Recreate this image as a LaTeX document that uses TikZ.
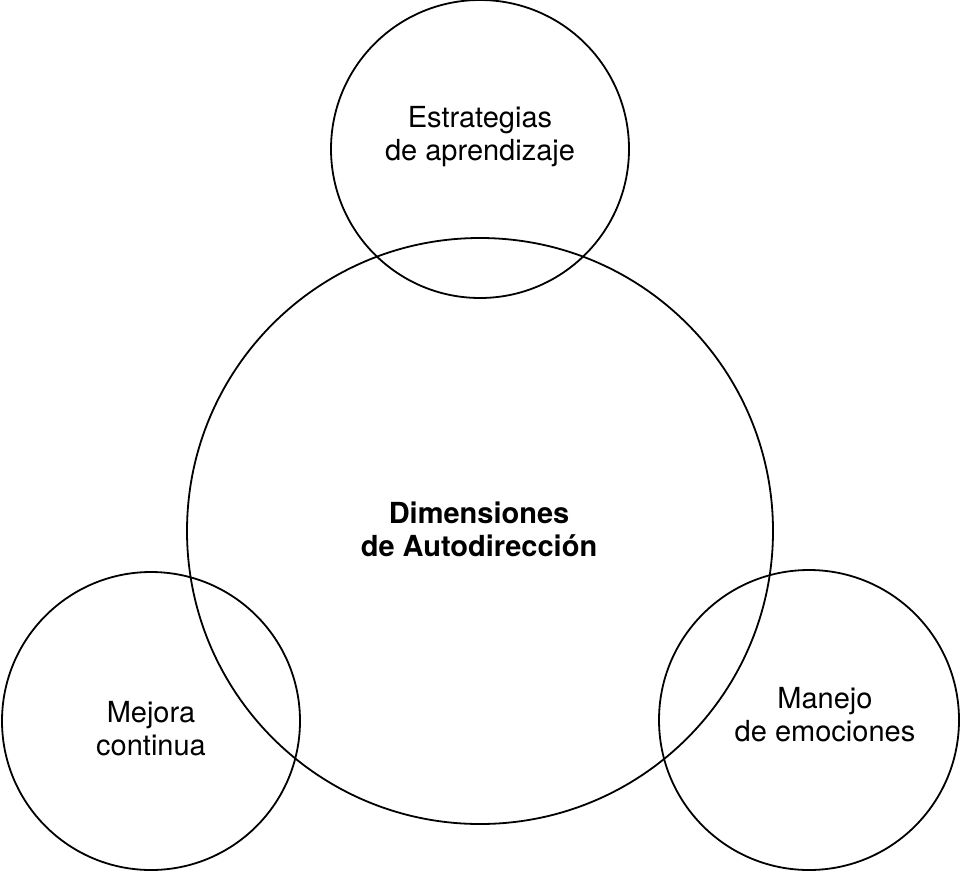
\documentclass[tikz,border=0pt]{standalone}
\usepackage{fontspec}
\setmainfont{TeX Gyre Heros}
\usetikzlibrary{positioning}

\begin{document}
\begin{tikzpicture}[x=1pt, y=-1pt]
		\tikzstyle {ring} = [draw, circle, line width=1.8pt, inner sep=0pt]
		\tikzstyle {label text} = [align=center, inner sep=0pt, font=\fontsize{29}{33}\selectfont]

		\useasboundingbox (0, 0) rectangle (960, 872);

		\node[ring, minimum size=586pt] (centro) at (480, 531) {};
		\node[ring, minimum size=298pt] (arriba) at (480, 149) {};
		\node[ring, minimum size=298pt] (izquierda) at (151, 721) {};
		\node[ring, minimum size=300pt] (derecha) at (809, 720) {};

		\node[label text, font=\fontsize{29}{33}\selectfont\bfseries] (dimensiones) at (479, 529) {Dimensiones\\de Autodirección};
		\node[label text] (estrategias) at (480, 137) {Estrategias\\de aprendizaje};
		\node[label text] (mejora) at (151, 729) {Mejora\\continua};
		\node[label text] (manejo) at (825, 715) {Manejo\\de emociones};

	\end{tikzpicture}
\end{document}
